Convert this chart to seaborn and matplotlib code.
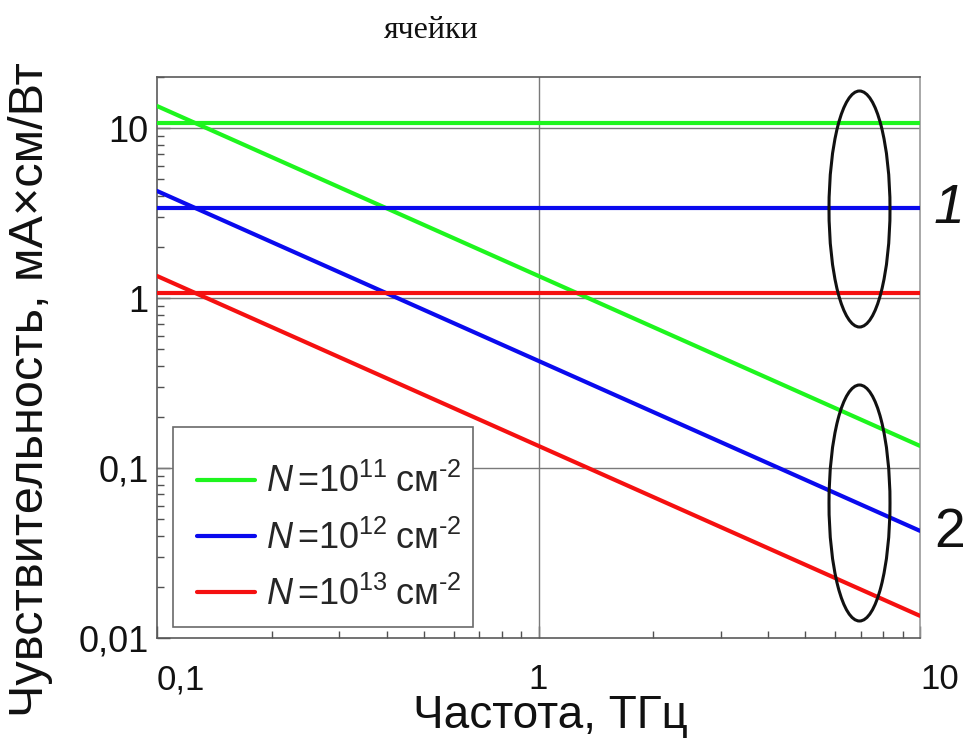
import matplotlib
matplotlib.use("Agg")
import matplotlib.pyplot as plt
import numpy as np
import pandas as pd
import seaborn as sns
from matplotlib.patches import Ellipse, Rectangle
from matplotlib.ticker import FixedLocator, LogLocator, NullFormatter

# ---- data -------------------------------------------------------------
freq = [0.1, 10.0]                       # ТГц, ends of each straight segment
series_names = [
    "$\\mathit{N}\\,$=10$^{11}$\u2009см$^{\u20102}$",
    "$\\mathit{N}\\,$=10$^{12}$\u2009см$^{\u20102}$",
    "$\\mathit{N}\\,$=10$^{13}$\u2009см$^{\u20102}$",
]
colors = ["#1ef51e", "#0a0aee", "#f51010"]

# group 1: frequency-independent sensitivity
flat_n11 = [10.7, 10.7]
flat_n12 = [3.4, 3.4]
flat_n13 = [1.07, 1.07]
# group 2: sensitivity falling as 1/f
slope_n11 = [13.5, 0.135]
slope_n12 = [4.27, 0.0427]
slope_n13 = [1.35, 0.0135]

flat = [flat_n11, flat_n12, flat_n13]
slope = [slope_n11, slope_n12, slope_n13]

rows = []
for name, fv, sv in zip(series_names, flat, slope):
    for f, v in zip(freq, fv):
        rows.append({"f": f, "S": v, "N": name, "curve": "1"})
    for f, v in zip(freq, sv):
        rows.append({"f": f, "S": v, "N": name, "curve": "2"})
df = pd.DataFrame(rows)

# ---- style ------------------------------------------------------------
sns.set_style("white")
plt.rcParams["font.family"] = ["Liberation Sans", "DejaVu Sans"]
plt.rcParams["mathtext.fontset"] = "custom"
plt.rcParams["mathtext.rm"] = "Liberation Sans"
plt.rcParams["mathtext.it"] = "Liberation Sans:italic"

fig = plt.figure(figsize=(9.66, 7.40), dpi=100)
ax = fig.add_axes([157 / 966, 1 - 638 / 740, 763 / 966, 561 / 740])

ax.set_xscale("log")
ax.set_yscale("log")

sns.lineplot(data=df, x="f", y="S", hue="N", units="curve", estimator=None,
             hue_order=series_names, palette=colors, lw=3, sort=False, ax=ax,
             zorder=3)

ax.set_xlim(0.1, 10)
ax.set_ylim(0.01, 20)

# grid only at selected decades
for yv in [0.1, 1, 10]:
    ax.axhline(yv, color="#7a7a7a", lw=1.0, zorder=1)
ax.axvline(1, color="#7a7a7a", lw=1.0, zorder=1)

# ticks
ax.xaxis.set_major_locator(FixedLocator([0.1, 1, 10]))
ax.set_xticklabels(["0,1", "1", "10"])
ax.xaxis.set_minor_locator(LogLocator(base=10, subs=np.arange(2, 10)))
ax.xaxis.set_minor_formatter(NullFormatter())
ax.yaxis.set_major_locator(FixedLocator([0.01, 0.1, 1, 10]))
ax.set_yticklabels(["0,01", "0,1", "1", "10"])
ax.yaxis.set_minor_locator(LogLocator(base=10, subs=np.arange(2, 10)))
ax.yaxis.set_minor_formatter(NullFormatter())

ax.tick_params(axis="both", which="both", direction="in", colors="#505050",
               left=True, bottom=True, top=False, right=False,
               labelcolor="#111111")
ax.tick_params(axis="both", which="major", length=9, width=1.0)
ax.tick_params(axis="both", which="minor", length=5, width=1.0)
ax.tick_params(axis="x", which="major", labelsize=25, pad=18)
ax.tick_params(axis="y", which="major", labelsize=26, pad=6)
for lbl, ha in zip(ax.get_xticklabels(), ["left", "center", "left"]):
    lbl.set_ha(ha)

for side in ["left", "bottom", "top"]:
    ax.spines[side].set_color("#5a5a5a")
    ax.spines[side].set_linewidth(1.2)
ax.spines["right"].set_color("#9a9a9a")
ax.spines["right"].set_linewidth(1.2)

# axis labels
ax.set_xlabel("Частота, ТГц", fontsize=33, color="#111111")
ax.xaxis.set_label_coords((550 - 157) / 763, (638 - 716) / 561)
ax.xaxis.label.set_va("center")
ax.set_ylabel("Чувствительность, мА×см/Вт", fontsize=35, color="#111111")
ax.yaxis.set_label_coords((31 - 157) / 763, (638 - 390) / 561)
ax.yaxis.label.set_va("center")

# legend: framed box drawn separately, entries placed inside it
handles, labels = ax.get_legend_handles_labels()
ax.get_legend().remove()
ax.add_patch(Rectangle((16 / 763, 11 / 561), 300 / 763, 200 / 561,
                       transform=ax.transAxes, fc="white", ec="#6a6a6a",
                       lw=1.2, zorder=5))
leg = ax.legend(handles, labels, loc="upper left",
                bbox_to_anchor=(40 / 763, (638 - 464) / 561), borderaxespad=0,
                fontsize=26, frameon=False, handlelength=1.6,
                handletextpad=0.3, labelspacing=0.56, borderpad=0)
leg.set_zorder(6)
for line in leg.get_lines():
    line.set_linewidth(3)

# ellipses grouping the curves
for cy in [(638 - 209) / 561, (638 - 503) / 561]:
    ax.add_patch(Ellipse(((859.5 - 157) / 763, cy), 61 / 763, 236 / 561,
                         transform=ax.transAxes, fill=False, ec="#111111",
                         lw=2.2, zorder=4, clip_on=False))

fig.text(964 / 966, 1 - 209 / 740, "1", fontsize=40, style="italic",
         ha="right", va="center", color="#111111")
fig.text(965 / 966, 1 - 533 / 740, "2", fontsize=40,
         ha="right", va="center", color="#111111")

fig.text(431 / 966, 1 - 30 / 740, "ячейки", fontsize=23,
         family=["Liberation Serif", "DejaVu Serif"], ha="center", va="center",
         color="#111111")

fig.savefig("out.png", dpi=100)
